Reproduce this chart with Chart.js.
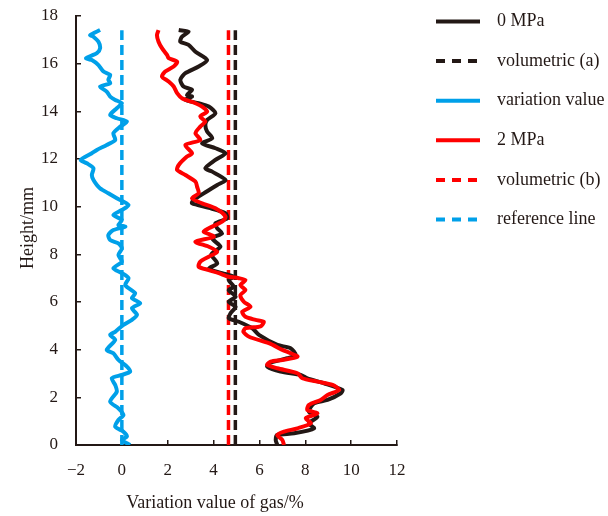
<!DOCTYPE html>
<html>
<head>
<meta charset="utf-8">
<script src="https://cdn.jsdelivr.net/npm/chart.js@4.4.1/dist/chart.umd.min.js"></script>
<style>
  html, body { margin: 0; padding: 0; background: #fff; }
  #wrap { width: 608px; height: 516px; }
</style>
</head>
<body>
<div id="wrap"><canvas id="gasChart" width="608" height="516"></canvas></div>
<script>
// profiles, listed from the top of the sample down
const heights0 = [17.41, 17.34, 17.13, 16.92, 16.79, 16.5, 16.15, 15.88, 15.6, 15.32, 15.04, 14.9, 14.69, 14.62, 14.48, 14.34, 14.2, 13.92, 13.64, 13.43, 13.15, 12.87, 12.66, 12.45, 12.24, 11.96, 11.61, 11.47, 11.12, 10.91, 10.56, 10.28, 10.14, 9.95, 9.72, 9.51, 9.3, 9.09, 8.88, 8.67, 8.32, 8.0, 7.62, 7.4, 7.21, 7.06, 6.92, 6.64, 6.5, 6.22, 6.01, 5.8, 5.53, 5.32, 5.17, 4.9, 4.62, 4.2, 4.06, 3.78, 3.64, 3.43, 3.29, 3.08, 2.94, 2.8, 2.59, 2.31, 2.17, 1.89, 1.75, 1.4, 1.19, 0.91, 0.7, 0.49, 0.42, 0.21, 0.0];
const gas0 = [2.48, 2.91, 2.62, 2.55, 2.91, 3.21, 3.72, 3.35, 2.77, 2.55, 2.69, 3.06, 2.84, 3.06, 2.77, 3.35, 3.79, 4.08, 3.72, 3.64, 3.72, 3.94, 3.5, 4.08, 4.52, 4.08, 3.64, 3.94, 4.52, 4.16, 3.57, 3.13, 3.06, 3.8, 4.52, 4.59, 4.08, 4.16, 4.37, 3.94, 4.3, 3.9, 4.16, 3.8, 4.37, 4.88, 4.66, 4.88, 4.66, 4.96, 4.66, 4.96, 4.74, 4.66, 5.1, 5.69, 5.98, 6.78, 7.36, 7.58, 7.22, 6.41, 6.34, 6.92, 7.8, 8.09, 8.82, 9.62, 9.55, 8.97, 8.38, 8.16, 8.53, 8.16, 8.38, 7.51, 6.78, 6.71, 6.78];

const heights2 = [17.41, 17.2, 16.92, 16.65, 16.37, 16.23, 16.08, 15.88, 15.67, 15.46, 15.25, 15.04, 14.76, 14.55, 14.34, 14.2, 13.99, 13.78, 13.57, 13.36, 13.08, 12.8, 12.59, 12.24, 12.1, 11.75, 11.54, 11.33, 11.05, 10.84, 10.56, 10.35, 10.14, 9.93, 9.58, 9.37, 9.09, 8.95, 8.74, 8.53, 8.32, 8.11, 7.9, 7.69, 7.48, 7.34, 7.21, 7.06, 7.0, 6.92, 6.71, 6.5, 6.29, 6.01, 5.8, 5.59, 5.38, 5.25, 5.17, 4.98, 4.9, 4.75, 4.54, 4.27, 3.99, 3.85, 3.71, 3.57, 3.5, 3.36, 3.22, 3.01, 2.8, 2.66, 2.52, 2.31, 2.1, 1.89, 1.68, 1.47, 1.33, 1.12, 0.91, 0.7, 0.56, 0.42, 0.21, 0.0];
const gas2 = [1.6, 1.53, 1.6, 1.75, 1.97, 2.04, 2.41, 2.26, 1.89, 1.75, 2.04, 2.26, 2.41, 2.62, 3.21, 3.5, 3.72, 3.42, 3.64, 3.42, 3.21, 3.42, 2.77, 3.06, 2.84, 2.48, 2.41, 2.77, 3.21, 3.28, 3.35, 3.06, 3.5, 4.08, 4.52, 4.37, 3.79, 3.57, 4.01, 3.21, 3.79, 4.16, 3.79, 3.42, 3.35, 3.79, 4.23, 4.66, 5.1, 5.39, 5.17, 5.39, 5.17, 5.32, 5.61, 5.25, 5.39, 5.83, 6.19, 6.05, 5.4, 5.3, 5.55, 6.41, 7.0, 7.36, 7.66, 7.0, 6.49, 6.34, 6.78, 7.66, 7.87, 8.53, 9.19, 9.48, 8.97, 8.67, 8.16, 8.09, 8.53, 8.02, 8.24, 7.66, 7.07, 6.78, 7.0, 7.07];

const heightsVar = [17.41, 17.2, 17.13, 16.92, 16.65, 16.44, 16.23, 16.15, 15.94, 15.67, 15.53, 15.32, 15.18, 15.04, 14.83, 14.62, 14.48, 14.34, 14.13, 13.85, 13.71, 13.57, 13.36, 13.08, 12.8, 12.59, 12.38, 12.24, 11.96, 11.82, 11.61, 11.33, 11.12, 10.91, 10.77, 10.56, 10.35, 10.07, 9.86, 9.65, 9.44, 9.23, 9.16, 9.02, 8.81, 8.6, 8.46, 8.25, 7.97, 7.69, 7.42, 7.21, 7.0, 6.71, 6.37, 6.16, 5.95, 5.74, 5.46, 5.25, 5.04, 4.75, 4.62, 4.41, 3.99, 3.85, 3.57, 3.29, 3.08, 2.94, 2.8, 2.52, 2.24, 1.82, 1.54, 1.26, 1.05, 0.77, 0.56, 0.35, 0.21, 0.0];
const gasVar = [-0.95, -1.38, -1.24, -1.02, -0.95, -1.09, -1.56, -1.31, -1.02, -0.8, -0.51, -0.59, -0.51, -0.95, -0.66, -0.51, -0.29, 0.0, -0.22, -0.51, -0.22, 0.22, -0.07, -0.37, -0.29, -0.66, -1.09, -1.31, -1.79, -1.53, -1.24, -1.31, -1.24, -1.09, -0.95, -0.59, -0.22, 0.29, 0.0, -0.37, 0.0, -0.15, 0.15, -0.37, -0.59, -0.51, -0.15, 0.0, -0.15, 0.0, -0.37, 0.0, 0.29, 0.15, 0.58, 0.44, 0.8, 0.44, 0.66, 0.44, 0.07, -0.29, -0.51, -0.29, -0.66, -0.37, -0.15, 0.22, 0.36, 0.0, -0.44, -0.29, -0.22, -0.51, -0.15, 0.07, -0.15, -0.29, 0.07, 0.22, 0.0, 0.36];

// vertical guide lines
const volumetricA = 4.95;
const volumetricB = 4.65;
const referenceX = 0;
const guideSpan = [0, 17.4];

const xTicks = [-2, 0, 2, 4, 6, 8, 10, 12];
const yTicks = [0, 2, 4, 6, 8, 10, 12, 14, 16, 18];

const ink = "#231815";
const black = "#231815";
const blue = "#00a0e9";
const red = "#ff0000";
const serif = "'Liberation Serif', 'Times New Roman', serif";

// where the plot box sits in the figure
const plotTop = 16;
const plotBottom = 445;

function zipProfile(values, heights) {
  return values.map((v, i) => ({ x: v, y: heights[i] }));
}

function guide(x) {
  return guideSpan.map((h) => ({ x: x, y: h }));
}

let xAxisHeight = 516 - plotBottom;

// titles and the legend are drawn by hand so they sit where the figure has them
const overlayPlugin = {
  id: "overlay",
  afterDraw(chart) {
    const ctx = chart.ctx;
    ctx.save();
    ctx.fillStyle = ink;
    ctx.font = "18px " + serif;
    ctx.textAlign = "center";
    ctx.textBaseline = "alphabetic";
    ctx.fillText("Variation value of gas/%", 215, 508);
    ctx.translate(33, 228);
    ctx.rotate(-Math.PI / 2);
    ctx.fillText("Height/mm", 0, 0);
    ctx.restore();

    chart.data.datasets.forEach((ds, i) => {
      const y = 21.5 + i * 39.6;
      ctx.save();
      ctx.strokeStyle = ds.borderColor;
      ctx.lineWidth = 4;
      const dashed = ds.borderDash && ds.borderDash.length;
      ctx.setLineDash(dashed ? [9, 7] : []);
      ctx.beginPath();
      ctx.moveTo(436, y);
      ctx.lineTo(dashed ? 477 : 480, y);
      ctx.stroke();
      ctx.setLineDash([]);
      ctx.fillStyle = ink;
      ctx.font = "18px " + serif;
      ctx.textAlign = "left";
      ctx.textBaseline = "middle";
      ctx.fillText(ds.label, 497, y);
      ctx.restore();
    });
  },
};

const ctx = document.getElementById("gasChart").getContext("2d");
const chart = new Chart(ctx, {
  type: "scatter",
  data: {
    datasets: [
      { label: "0 MPa", data: zipProfile(gas0, heights0), borderColor: black, borderWidth: 4, tension: 0.25, order: 2 },
      { label: "volumetric (a)", data: guide(volumetricA), borderColor: black, borderWidth: 3.5, borderDash: [10, 5], order: 3 },
      { label: "variation value", data: zipProfile(gasVar, heightsVar), borderColor: blue, borderWidth: 4, tension: 0.25, order: 1 },
      { label: "2 MPa", data: zipProfile(gas2, heights2), borderColor: red, borderWidth: 4, tension: 0.25, order: 0 },
      { label: "volumetric (b)", data: guide(volumetricB), borderColor: red, borderWidth: 3.5, borderDash: [10, 5], order: 3 },
      { label: "reference line", data: guide(referenceX), borderColor: blue, borderWidth: 3.5, borderDash: [10, 5], order: 3 },
    ],
  },
  options: {
    responsive: false,
    animation: false,
    showLine: true,
    elements: { point: { radius: 0, hoverRadius: 0 } },
    layout: { padding: { left: 0, right: 211, top: plotTop, bottom: 0 } },
    plugins: { legend: { display: false }, tooltip: { enabled: false } },
    scales: {
      x: {
        type: "linear",
        min: xTicks[0],
        max: xTicks[xTicks.length - 1],
        afterBuildTicks: (s) => { s.ticks = xTicks.map((v) => ({ value: v })); },
        afterFit: (s) => {
          s.height = xAxisHeight;
          s.paddingLeft = 0;
          s.paddingRight = 0;
        },
        border: { display: true, color: ink, width: 2 },
        grid: { drawOnChartArea: false, drawTicks: true, tickLength: -5, color: ink, lineWidth: 1.5 },
        ticks: {
          color: ink,
          padding: 20,
          font: { family: serif, size: 17 },
          callback: (v) => (v < 0 ? "\u2212" + Math.abs(v) : String(v)),
        },
      },
      y: {
        type: "linear",
        min: yTicks[0],
        max: yTicks[yTicks.length - 1],
        afterBuildTicks: (s) => { s.ticks = yTicks.map((v) => ({ value: v })); },
        // tick padding would otherwise be added to the room kept above the axis
        afterFit: (s) => {
          s.width = 76;
          s.paddingTop = 0;
          s.paddingBottom = 0;
        },
        border: { display: true, color: ink, width: 2 },
        grid: { drawOnChartArea: false, drawTicks: true, tickLength: -5, color: ink, lineWidth: 1.5 },
        ticks: {
          color: ink,
          padding: 23,
          font: { family: serif, size: 17 },
        },
      },
    },
  },
  plugins: [overlayPlugin],
});

// nudge the box back if the layout still kept extra room
const topShift = chart.chartArea.top - plotTop;
const bottomShift = plotBottom - chart.chartArea.bottom;
if (topShift || bottomShift) {
  chart.options.layout.padding.top = plotTop - topShift;
  xAxisHeight -= bottomShift;
  chart.update();
}
</script>
</body>
</html>
